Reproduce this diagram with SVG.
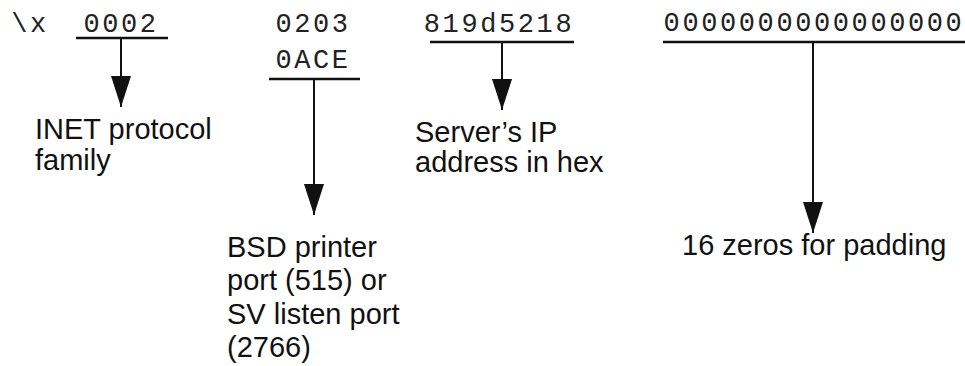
<svg xmlns="http://www.w3.org/2000/svg" width="965" height="366" viewBox="0 0 965 366">
  <defs>
    <marker id="arrow" markerUnits="userSpaceOnUse" markerWidth="31" markerHeight="20" refX="31" refY="10" orient="auto" viewBox="0 0 31 20">
      <path d="M0,0 L31,10 L0,20 Z" fill="#111"/>
    </marker>
    <style>
      .mono { font-family: "Liberation Mono", "Courier New", monospace; font-size: 27px; letter-spacing: 2.6px; fill: #222; }
      .lbl { font-family: "Liberation Sans", Arial, Helvetica, sans-serif; font-size: 29px; fill: #111; }
      .ul { stroke: #111; stroke-width: 2.5; fill: none; }
      .stem { stroke: #111; stroke-width: 2; fill: none; marker-end: url(#arrow); }
    </style>
  </defs>
  <rect width="965" height="366" fill="#ffffff"/>

  <g id="prefix">
    <text class="mono" x="30" y="32" text-anchor="middle">\x</text>
  </g>

  <g id="family-field">
    <text class="mono" x="121" y="32" text-anchor="middle">0002</text>
    <line class="ul" x1="76" y1="38" x2="168" y2="38"/>
  </g>

  <g id="port-field">
    <text class="mono" x="313" y="32" text-anchor="middle">0203</text>
    <text class="mono" x="313" y="68" text-anchor="middle">0ACE</text>
    <line class="ul" x1="269" y1="79" x2="360" y2="79"/>
  </g>

  <g id="ip-field">
    <text class="mono" x="499" y="32" text-anchor="middle">819d5218</text>
    <line class="ul" x1="430" y1="42" x2="574" y2="42"/>
  </g>

  <g id="padding-field">
    <text class="mono" x="814" y="31" text-anchor="middle">0000000000000000</text>
    <line class="ul" x1="663" y1="42" x2="965" y2="42"/>
  </g>

  <g id="connectors">
    <line class="stem" x1="121" y1="38" x2="121" y2="107"/>
    <line class="stem" x1="314" y1="79" x2="314" y2="215"/>
    <line class="stem" x1="502" y1="42" x2="502" y2="110"/>
    <line class="stem" x1="813" y1="42" x2="813" y2="233"/>
  </g>

  <g id="label-family">
    <text class="lbl" x="35" y="139">INET protocol</text>
    <text class="lbl" x="35" y="170">family</text>
  </g>

  <g id="label-port">
    <text class="lbl" x="227" y="257">BSD printer</text>
    <text class="lbl" x="227" y="290">port (515) or</text>
    <text class="lbl" x="227" y="324">SV listen port</text>
    <text class="lbl" x="227" y="357">(2766)</text>
  </g>

  <g id="label-ip">
    <text class="lbl" x="415" y="142">Server’s IP</text>
    <text class="lbl" x="415" y="172">address in hex</text>
  </g>

  <g id="label-padding">
    <text class="lbl" x="682" y="255">16 zeros for padding</text>
  </g>
</svg>
